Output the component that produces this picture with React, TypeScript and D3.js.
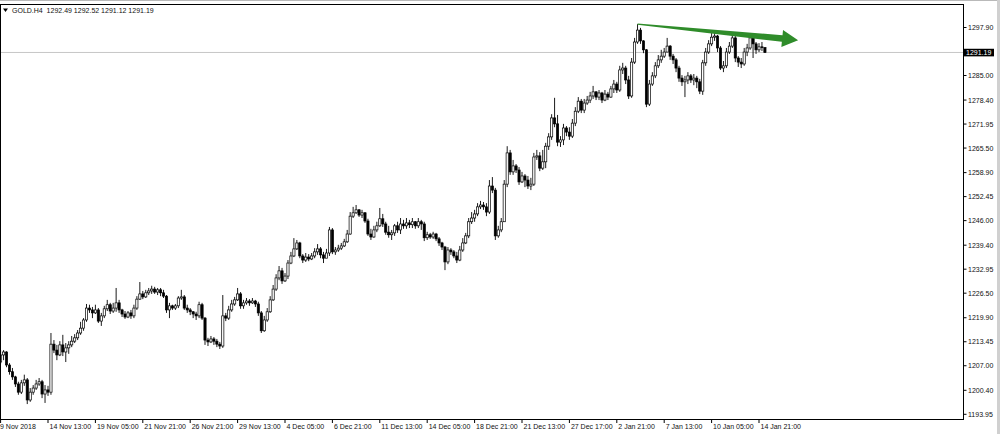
import * as d3 from "d3";

// GOLD H4, 9 Nov 2018 -> 14 Jan 2019
const symbol = "GOLD.H4";
const lastQuote = ["1292.49", "1292.52", "1291.12", "1291.19"];
const lastPrice = 1291.19;
const firstOpen = 1208.0;

const closes = [
  1209.9, 1210.7, 1207.2, 1205.4, 1204.0, 1202.1, 1199.9, 1202.4, 1203.2, 1197.8,
  1199.9, 1201.0, 1202.1, 1202.7, 1199.4, 1200.5, 1199.9, 1212.8, 1211.2, 1209.9,
  1212.6, 1210.7, 1211.8, 1212.6, 1213.6, 1214.5, 1215.8, 1217.1, 1219.3, 1222.5,
  1222.0, 1221.2, 1222.0, 1219.0, 1220.4, 1222.3, 1223.4, 1221.7, 1222.5, 1223.9,
  1222.0, 1220.9, 1220.1, 1221.2, 1220.4, 1222.5, 1224.9, 1226.3, 1225.5, 1226.6,
  1227.1, 1227.6, 1226.8, 1227.4, 1226.6, 1225.7, 1222.0, 1223.1, 1222.5, 1223.1,
  1225.2, 1225.5, 1222.5, 1222.0, 1221.5, 1220.9, 1220.4, 1223.4, 1219.8, 1213.9,
  1213.4, 1214.2, 1213.6, 1212.8, 1212.3, 1220.4, 1219.8, 1222.0, 1223.6, 1224.7,
  1226.3, 1223.1, 1223.9, 1224.4, 1223.9, 1224.4, 1223.6, 1221.2, 1216.4, 1219.3,
  1221.5, 1224.7, 1227.6, 1230.6, 1232.5, 1229.8, 1231.1, 1234.6, 1236.5, 1238.4,
  1240.0, 1236.5, 1235.4, 1236.2, 1235.7, 1236.5, 1237.6, 1238.4, 1236.8, 1235.9,
  1237.3, 1243.5, 1237.6, 1238.1, 1238.6, 1239.2, 1240.3, 1242.4, 1247.2, 1248.1,
  1248.9, 1247.5, 1248.1, 1245.9, 1242.4, 1241.6, 1243.5, 1244.6, 1246.5, 1245.1,
  1242.9, 1242.2, 1242.7, 1244.6, 1243.5, 1245.1, 1244.6, 1245.4, 1244.9, 1245.7,
  1244.6, 1245.7, 1245.1, 1241.4, 1242.2, 1241.6, 1242.4, 1241.1, 1240.0, 1238.9,
  1234.9, 1238.1, 1237.6, 1236.5, 1235.4, 1238.1, 1240.0, 1241.9, 1245.7, 1246.7,
  1247.8, 1249.7, 1250.2, 1249.7, 1248.3, 1255.3, 1254.2, 1241.9, 1243.5, 1245.7,
  1255.8, 1264.2, 1259.1, 1260.7, 1259.6, 1256.4, 1258.0, 1256.9, 1255.3, 1255.8,
  1263.1, 1263.4, 1260.1, 1261.8, 1266.0, 1268.5, 1273.6, 1272.0, 1267.1, 1267.7,
  1270.9, 1269.8, 1268.7, 1272.2, 1275.4, 1278.1, 1275.7, 1277.6, 1278.4, 1279.5,
  1280.6, 1279.2, 1280.3, 1278.4, 1280.0, 1279.2, 1281.4, 1282.7, 1281.1, 1286.5,
  1287.0, 1283.8, 1279.5, 1288.6, 1294.0, 1297.2, 1294.3, 1291.9, 1277.3, 1282.7,
  1284.9, 1287.6, 1289.2, 1290.2, 1291.3, 1292.9, 1290.2, 1289.2, 1287.0, 1284.3,
  1283.3, 1283.8, 1284.9, 1283.8, 1284.3, 1283.3, 1280.8, 1288.4, 1291.3, 1293.5,
  1295.3, 1295.6, 1292.4, 1287.0, 1287.6, 1291.3, 1292.9, 1295.1, 1289.7, 1288.6,
  1288.1, 1291.3, 1292.4, 1295.1, 1293.5, 1291.9, 1292.7, 1292.49, 1291.19,
];

const highs = [
  1211.2, 1211.2, 1210.9, 1207.7, 1206.4, 1204.3, 1202.7, 1203.2, 1204.6, 1203.7,
  1201.0, 1201.8, 1203.2, 1203.7, 1203.2, 1201.8, 1201.6, 1215.8, 1213.9, 1212.6,
  1213.6, 1215.3, 1213.1, 1213.6, 1215.0, 1215.5, 1216.6, 1218.8, 1219.8, 1223.6,
  1223.4, 1222.8, 1223.4, 1222.5, 1221.2, 1223.1, 1224.7, 1223.9, 1223.9, 1227.9,
  1224.7, 1222.3, 1221.7, 1221.7, 1222.0, 1223.4, 1225.7, 1229.5, 1227.1, 1227.4,
  1227.9, 1228.5, 1228.2, 1227.9, 1227.9, 1227.4, 1226.0, 1223.9, 1223.4, 1223.6,
  1225.7, 1227.4, 1226.0, 1223.4, 1222.5, 1221.7, 1221.5, 1224.2, 1223.9, 1220.1,
  1214.5, 1215.0, 1214.7, 1214.2, 1213.4, 1226.0, 1221.2, 1223.1, 1224.7, 1225.5,
  1227.9, 1226.8, 1224.7, 1225.2, 1224.9, 1225.2, 1224.7, 1224.2, 1221.7, 1220.4,
  1222.5, 1225.7, 1228.7, 1231.6, 1233.8, 1233.3, 1231.9, 1235.4, 1237.6, 1241.3,
  1240.8, 1240.3, 1237.0, 1237.3, 1237.0, 1237.3, 1238.6, 1239.7, 1238.9, 1237.6,
  1238.4, 1244.3, 1244.0, 1238.9, 1239.5, 1240.0, 1241.1, 1243.5, 1248.3, 1249.7,
  1250.2, 1249.1, 1248.9, 1248.3, 1246.5, 1243.8, 1244.6, 1245.7, 1249.4, 1247.8,
  1245.7, 1244.6, 1243.5, 1245.1, 1245.7, 1246.7, 1246.2, 1246.7, 1246.2, 1246.7,
  1245.9, 1246.7, 1246.2, 1245.7, 1243.0, 1242.7, 1243.0, 1242.7, 1241.6, 1240.3,
  1239.2, 1238.9, 1238.6, 1238.1, 1237.6, 1239.2, 1241.3, 1242.7, 1246.7, 1248.3,
  1248.9, 1250.7, 1251.3, 1251.0, 1250.7, 1256.9, 1257.7, 1254.8, 1244.6, 1246.7,
  1256.9, 1266.0, 1265.0, 1262.3, 1261.2, 1260.4, 1259.1, 1258.5, 1258.0, 1257.5,
  1264.2, 1265.0, 1264.4, 1265.0, 1266.9, 1269.5, 1274.6, 1279.0, 1274.4, 1268.7,
  1272.0, 1271.4, 1271.1, 1273.3, 1276.5, 1279.2, 1278.7, 1278.7, 1279.5, 1280.6,
  1282.2, 1280.8, 1281.1, 1280.6, 1281.1, 1280.6, 1282.2, 1283.8, 1283.3, 1287.6,
  1288.4, 1287.6, 1284.9, 1289.7, 1295.1, 1298.8, 1297.8, 1294.5, 1292.1, 1283.8,
  1285.9, 1288.6, 1290.5, 1291.9, 1292.4, 1295.1, 1293.2, 1290.8, 1289.7, 1287.6,
  1285.1, 1284.9, 1285.9, 1285.4, 1285.4, 1284.9, 1284.1, 1289.2, 1292.4, 1294.5,
  1296.4, 1296.4, 1295.9, 1292.9, 1288.9, 1292.4, 1294.0, 1296.1, 1295.6, 1290.2,
  1289.7, 1292.4, 1293.5, 1296.4, 1295.6, 1294.0, 1293.7, 1294.0, 1292.52,
];

const lows = [
  1207.4, 1208.5, 1206.6, 1204.6, 1203.2, 1201.3, 1199.2, 1199.4, 1201.6, 1196.7,
  1197.3, 1199.2, 1200.5, 1201.6, 1198.3, 1197.0, 1198.9, 1199.2, 1210.4, 1208.5,
  1209.6, 1209.6, 1208.0, 1210.2, 1212.0, 1213.1, 1213.9, 1215.3, 1216.4, 1218.8,
  1221.2, 1219.8, 1220.9, 1218.5, 1217.7, 1219.8, 1221.7, 1220.9, 1221.2, 1221.5,
  1221.2, 1220.1, 1219.6, 1219.8, 1219.6, 1219.8, 1222.0, 1224.7, 1224.9, 1225.2,
  1226.0, 1226.3, 1226.3, 1226.0, 1225.7, 1225.2, 1221.2, 1219.8, 1222.0, 1222.0,
  1222.5, 1224.7, 1222.0, 1221.2, 1220.6, 1219.8, 1219.3, 1219.8, 1219.3, 1212.6,
  1212.3, 1213.1, 1212.6, 1212.0, 1211.5, 1211.8, 1219.0, 1219.3, 1221.5, 1223.1,
  1224.4, 1222.3, 1222.3, 1223.4, 1223.1, 1223.6, 1222.8, 1220.4, 1215.8, 1216.1,
  1218.8, 1221.2, 1224.4, 1227.1, 1230.0, 1229.0, 1229.5, 1230.3, 1234.3, 1236.2,
  1238.1, 1235.9, 1234.6, 1234.9, 1235.1, 1235.4, 1235.9, 1236.8, 1235.9, 1234.6,
  1236.2, 1236.5, 1237.0, 1236.8, 1237.6, 1238.1, 1238.9, 1240.0, 1242.2, 1246.7,
  1247.8, 1247.0, 1246.7, 1245.4, 1241.9, 1240.8, 1241.4, 1242.9, 1244.3, 1244.3,
  1242.2, 1241.4, 1240.8, 1241.9, 1242.7, 1242.4, 1243.8, 1243.8, 1244.0, 1244.0,
  1243.8, 1244.0, 1243.5, 1240.5, 1240.8, 1241.1, 1241.1, 1240.5, 1239.2, 1238.1,
  1232.7, 1234.3, 1236.8, 1235.9, 1234.6, 1235.1, 1237.6, 1239.7, 1241.3, 1245.1,
  1245.7, 1247.2, 1249.1, 1248.9, 1247.2, 1247.8, 1253.4, 1240.8, 1241.4, 1242.9,
  1245.7, 1255.0, 1258.3, 1258.3, 1258.8, 1255.6, 1256.1, 1255.0, 1254.5, 1254.2,
  1255.3, 1262.3, 1259.3, 1259.6, 1260.1, 1265.0, 1267.7, 1271.1, 1266.0, 1265.8,
  1266.3, 1268.7, 1267.7, 1268.2, 1271.4, 1274.9, 1274.9, 1274.9, 1277.1, 1277.6,
  1278.7, 1278.4, 1278.4, 1277.6, 1278.1, 1278.4, 1279.0, 1280.3, 1280.3, 1280.6,
  1285.4, 1282.7, 1278.7, 1279.0, 1288.1, 1293.5, 1293.5, 1291.0, 1276.5, 1276.8,
  1282.2, 1284.3, 1287.0, 1288.4, 1289.7, 1291.3, 1289.2, 1288.1, 1285.9, 1283.3,
  1282.2, 1279.2, 1282.7, 1283.0, 1282.4, 1281.6, 1280.0, 1279.8, 1287.6, 1290.8,
  1292.9, 1294.3, 1291.3, 1286.5, 1285.9, 1287.0, 1290.8, 1292.4, 1288.6, 1287.3,
  1287.0, 1287.6, 1290.2, 1291.9, 1289.7, 1290.8, 1291.3, 1291.6, 1291.12,
];

// one time label every 16 bars
const labelStep = 16;
const timeLabels = [
  "9 Nov 2018", "14 Nov 13:00", "19 Nov 05:00", "21 Nov 21:00", "26 Nov 21:00",
  "29 Nov 13:00", "4 Dec 05:00", "6 Dec 21:00", "11 Dec 13:00", "14 Dec 05:00",
  "18 Dec 21:00", "21 Dec 13:00", "27 Dec 17:00", "2 Jan 21:00", "7 Jan 13:00",
  "10 Jan 05:00", "14 Jan 21:00",
];

const priceTicks = [
  1297.9, 1285.0, 1278.4, 1271.95, 1265.5, 1258.9, 1252.45, 1246.0, 1239.4,
  1232.95, 1226.5, 1219.9, 1213.45, 1207.0, 1200.4, 1193.95,
];

// trend arrow drawn on the chart (bar index, price)
const arrowFrom = { bar: 215, price: 1298.8 };
const arrowTo = { bar: 269.2, price: 1294.5 };

const W = 1000;
const H = 434;
const frame = { left: 0.5, top: 4.5, right: 963.5, bottom: 419.5 };
const FONT = "Tahoma, 'Liberation Sans', Arial, sans-serif";

export default function App() {
  const n = closes.length;
  const opens = closes.map((c, i) => (i === 0 ? firstOpen : closes[i - 1]));

  const x = d3.scaleLinear().domain([0, n - 1]).range([0.6, 0.6 + (n - 1) * 2.9625]);
  const y = d3.scaleLinear().domain([1193.95, 1297.9]).range([414.3, 27.5]);

  const bodyW = 2.2;

  // tapered arrow
  const x0 = x(arrowFrom.bar), y0 = y(arrowFrom.price);
  const x1 = x(arrowTo.bar), y1 = y(arrowTo.price);
  const len = Math.hypot(x1 - x0, y1 - y0);
  const ux = (x1 - x0) / len, uy = (y1 - y0) / len;
  const nx = -uy, ny = ux;
  const headLen = 16, headHalf = 8.5, shaftHalf = 3.3, startHalf = 0.7;
  const bx = x1 - ux * headLen, by = y1 - uy * headLen;
  const pt = (px: number, py: number, k: number) => `${px + nx * k},${py + ny * k}`;
  const arrowPts = [
    pt(x0, y0, -startHalf),
    pt(bx, by, -shaftHalf),
    pt(bx, by, -headHalf),
    `${x1},${y1}`,
    pt(bx, by, headHalf),
    pt(bx, by, shaftHalf),
    pt(x0, y0, startHalf),
  ].join(" ");

  const yLast = y(lastPrice);

  return (
    <div style={{ position: "absolute", left: 0, top: 0, width: W, height: H, background: "#fff" }}>
      <svg width={W} height={H} style={{ display: "block" }} fontFamily={FONT}>
        <rect x={0} y={0} width={W} height={H} fill="#fff" />
        {/* outer window edges */}
        <line x1={0} x2={W} y1={0.5} y2={0.5} stroke="#b9b9b9" />
        <line x1={W - 1.5} x2={W - 1.5} y1={0} y2={H} stroke="#d0d0d0" strokeWidth={3} />

        {/* current price line */}
        <line x1={frame.left} x2={frame.right} y1={yLast} y2={yLast} stroke="#c6c6c6" />

        {/* candles */}
        <g>
          {closes.map((c, i) => {
            const o = opens[i];
            const cx = x(i);
            const top = y(Math.max(o, c));
            const bot = y(Math.min(o, c));
            const bull = c >= o;
            return (
              <g key={i}>
                <line x1={cx} x2={cx} y1={y(highs[i])} y2={y(lows[i])} stroke="#000" strokeWidth={0.9} />
                <rect
                  x={cx - bodyW / 2}
                  y={top}
                  width={bodyW}
                  height={Math.max(bot - top, 0.8)}
                  fill={bull ? "#fff" : "#000"}
                  stroke="#000"
                  strokeWidth={0.7}
                />
              </g>
            );
          })}
        </g>

        {/* trend arrow */}
        <polygon points={arrowPts} fill="#2f8c2a" />

        {/* chart frame */}
        <rect
          x={frame.left}
          y={frame.top}
          width={frame.right - frame.left}
          height={frame.bottom - frame.top}
          fill="none"
          stroke="#000"
        />

        {/* header */}
        <path d="M3,8.5 L8,8.5 L5.5,12 Z" fill="#000" />
        <text x={12} y={13} fontSize={7} fill="#111" style={{ whiteSpace: "pre" }}>
          {`${symbol}  ${lastQuote.join(" ")}`}
        </text>

        {/* price axis */}
        <g fontSize={7} fill="#111">
          {priceTicks.map((v) => (
            <g key={v}>
              <line x1={frame.right} x2={frame.right + 3} y1={y(v)} y2={y(v)} stroke="#000" />
              <text x={968} y={y(v) + 2.5}>{v.toFixed(2)}</text>
            </g>
          ))}
        </g>
        <rect x={964} y={yLast - 3.7} width={30} height={7.6} fill="#000" />
        <text x={966} y={yLast + 2.5} fontSize={7} fill="#fff">
          {lastPrice.toFixed(2)}
        </text>

        {/* time axis */}
        <g fontSize={7} fill="#111">
          {timeLabels.map((t, k) => {
            const tx = x(k * labelStep);
            return (
              <g key={t}>
                <line x1={tx} x2={tx} y1={frame.bottom} y2={frame.bottom + 3.5} stroke="#000" />
                <text x={k === 0 ? 0 : tx + 1.5} y={429}>{t}</text>
              </g>
            );
          })}
        </g>
      </svg>
    </div>
  );
}
